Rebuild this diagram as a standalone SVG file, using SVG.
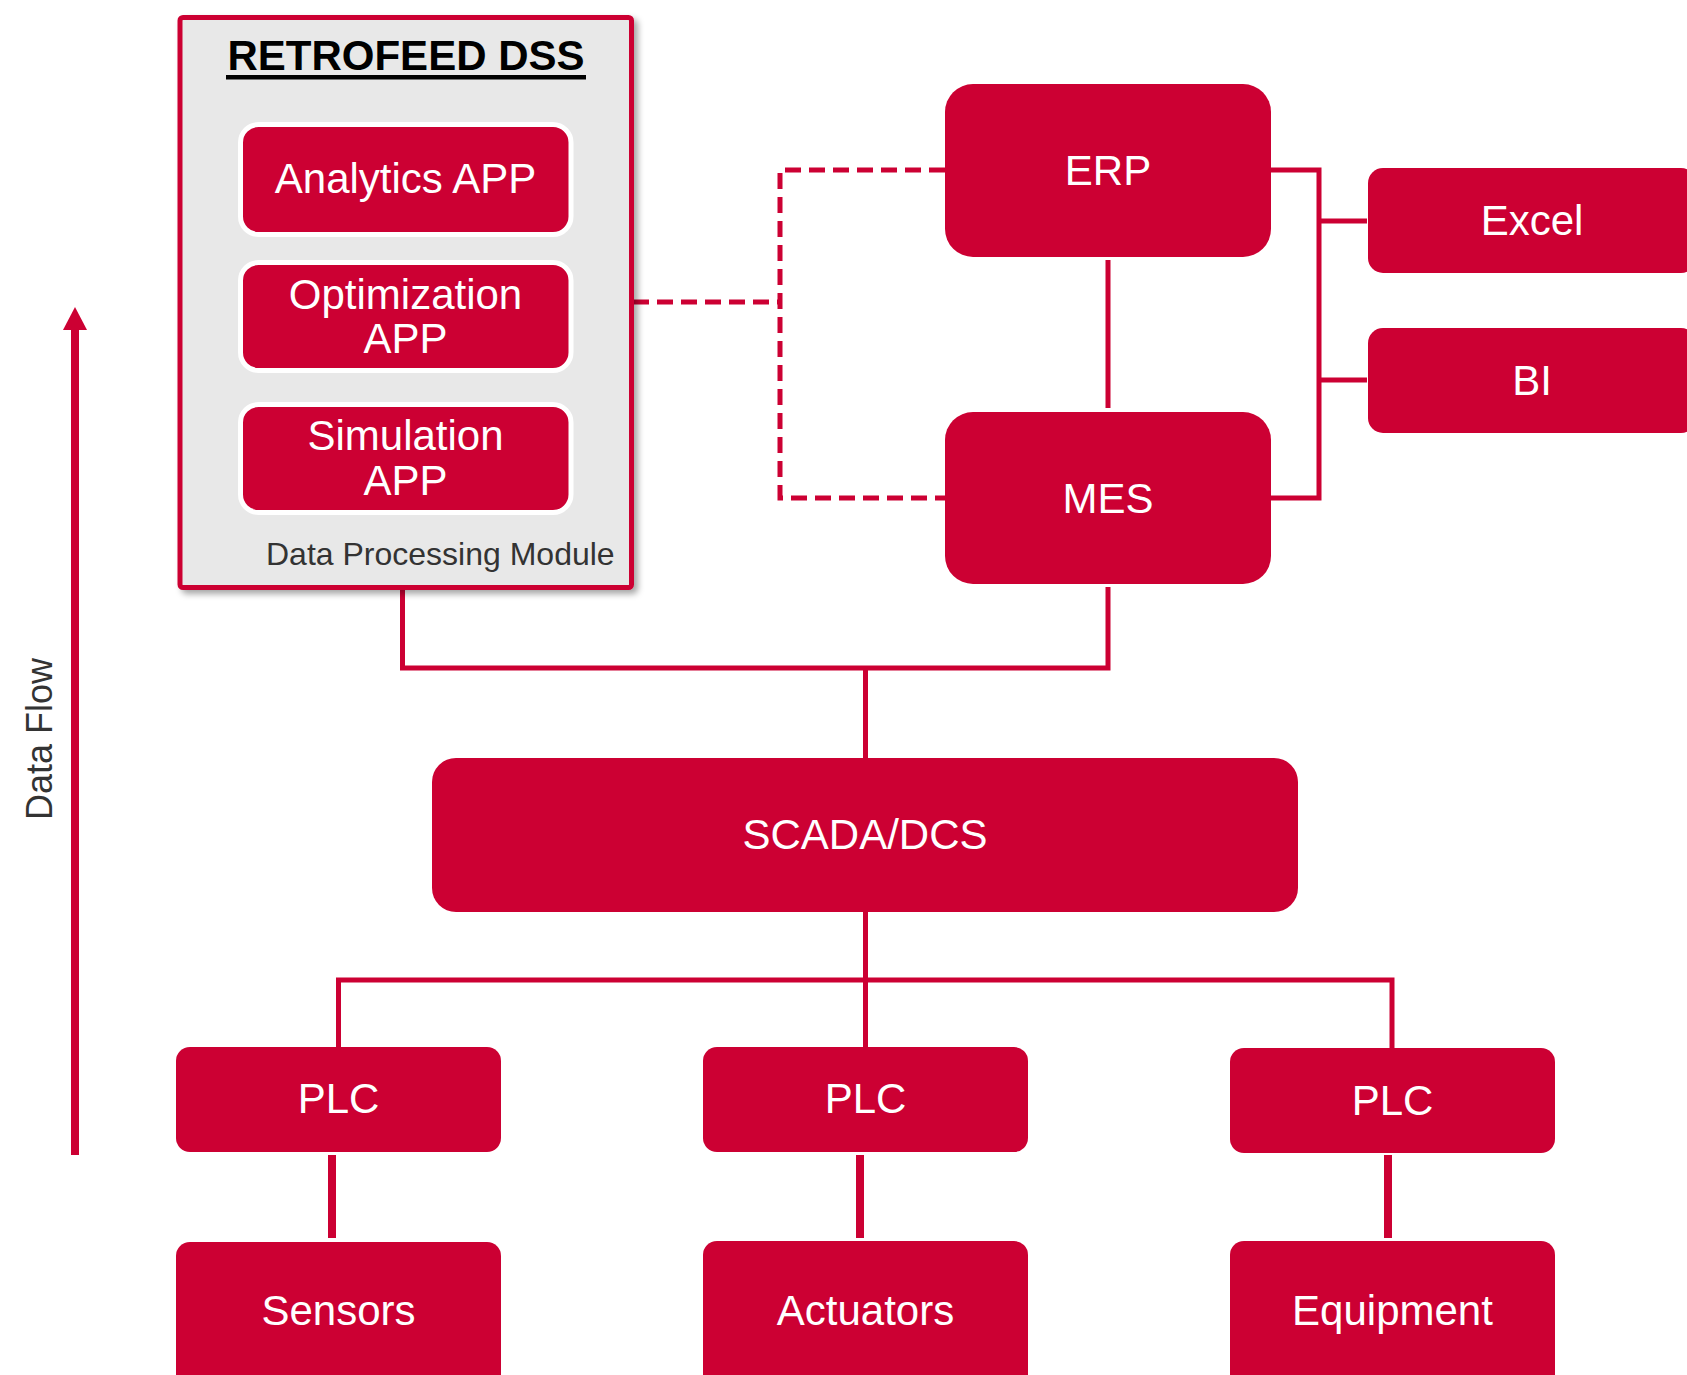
<svg xmlns="http://www.w3.org/2000/svg" width="1687" height="1375" viewBox="0 0 1687 1375">
<defs>
<filter id="shadow" x="-5%" y="-5%" width="115%" height="115%">
<feDropShadow dx="4" dy="4" stdDeviation="3" flood-color="#000" flood-opacity="0.35"/>
</filter>
</defs>
<style>
.box{fill:#CC0033}
.app{fill:#CC0033;stroke:#fff;stroke-width:5}
.lbl{font-family:"Liberation Sans",Arial,sans-serif;font-size:42px;fill:#fff;text-anchor:middle}
.dark{font-family:"Liberation Sans",Arial,sans-serif;fill:#333}
.ln{stroke:#CC0033;stroke-width:5;fill:none}
.thick{stroke:#CC0033;stroke-width:8;fill:none}
.dash{stroke:#CC0033;stroke-width:5;fill:none;stroke-dasharray:16 8}
</style>
<rect width="1687" height="1375" fill="#fff"/>

<g id="connectors">
<path class="dash" d="M633,302 H780"/>
<path class="dash" d="M945,170 H780 V498 H945"/>
<path class="ln" d="M1108,260 V408"/>
<path class="ln" d="M1271,170 H1319 V498 H1271"/>
<path class="ln" d="M1319,221 H1367"/>
<path class="ln" d="M1319,380 H1367"/>
<path class="ln" d="M402.5,590 V668 H1108 V587"/>
<path class="ln" d="M865.5,668 V758"/>
<path class="ln" d="M865.5,912 V1047"/>
<path class="ln" d="M338.5,1047 V980 H1392 V1048"/>
<path class="thick" d="M332,1155 V1238"/>
<path class="thick" d="M860,1155 V1238"/>
<path class="thick" d="M1388,1155 V1238"/>
</g>

<g id="dataflow">
<line x1="75" y1="1155" x2="75" y2="326" stroke="#CC0033" stroke-width="8"/>
<polygon points="63,330 87,330 75,307" fill="#CC0033"/>
<text class="dark" font-size="36" text-anchor="middle" transform="translate(52,739) rotate(-90)">Data Flow</text>
</g>

<g id="retrofeed-dss">
<rect x="180" y="17.5" width="451.5" height="570" rx="3" fill="#E8E8E8" stroke="#CC0033" stroke-width="5" filter="url(#shadow)"/>
<text x="406" y="70" font-family="'Liberation Sans',Arial,sans-serif" font-size="42" font-weight="bold" fill="#000" text-anchor="middle">RETROFEED DSS</text>
<rect x="226" y="75" width="360" height="4.5" fill="#000"/>
<text class="dark" x="266" y="565" font-size="32">Data Processing Module</text>
</g>

<g id="analytics-app">
<rect class="app" x="240.5" y="124.5" width="330.5" height="110" rx="18"/>
<text class="lbl" x="405.5" y="193">Analytics APP</text>
</g>
<g id="optimization-app">
<rect class="app" x="240.5" y="262.5" width="330.5" height="108" rx="18"/>
<text class="lbl" x="405.5" y="309">Optimization</text>
<text class="lbl" x="405.5" y="353">APP</text>
</g>
<g id="simulation-app">
<rect class="app" x="240.5" y="404.5" width="330.5" height="108" rx="18"/>
<text class="lbl" x="405.5" y="450">Simulation</text>
<text class="lbl" x="405.5" y="495">APP</text>
</g>

<g id="erp">
<rect class="box" x="945" y="84" width="326" height="173" rx="28"/>
<text class="lbl" x="1108" y="185">ERP</text>
</g>
<g id="mes">
<rect class="box" x="945" y="412" width="326" height="172" rx="28"/>
<text class="lbl" x="1108" y="513">MES</text>
</g>
<g id="excel">
<rect class="box" x="1368" y="168" width="328" height="105" rx="15"/>
<text class="lbl" x="1532" y="235">Excel</text>
</g>
<g id="bi">
<rect class="box" x="1368" y="328" width="328" height="105" rx="15"/>
<text class="lbl" x="1532" y="395">BI</text>
</g>
<g id="scada-dcs">
<rect class="box" x="432" y="758" width="866" height="154" rx="24"/>
<text class="lbl" x="865" y="849">SCADA/DCS</text>
</g>
<g id="plc-1">
<rect class="box" x="176" y="1047" width="325" height="105" rx="14"/>
<text class="lbl" x="338.5" y="1113">PLC</text>
</g>
<g id="plc-2">
<rect class="box" x="703" y="1047" width="325" height="105" rx="14"/>
<text class="lbl" x="865.5" y="1113">PLC</text>
</g>
<g id="plc-3">
<rect class="box" x="1230" y="1048" width="325" height="105" rx="14"/>
<text class="lbl" x="1392.5" y="1115">PLC</text>
</g>
<g id="sensors">
<rect class="box" x="176" y="1242" width="325" height="160" rx="14"/>
<text class="lbl" x="338.5" y="1325">Sensors</text>
</g>
<g id="actuators">
<rect class="box" x="703" y="1241" width="325" height="160" rx="14"/>
<text class="lbl" x="865.5" y="1325">Actuators</text>
</g>
<g id="equipment">
<rect class="box" x="1230" y="1241" width="325" height="160" rx="14"/>
<text class="lbl" x="1392.5" y="1325">Equipment</text>
</g>
</svg>
